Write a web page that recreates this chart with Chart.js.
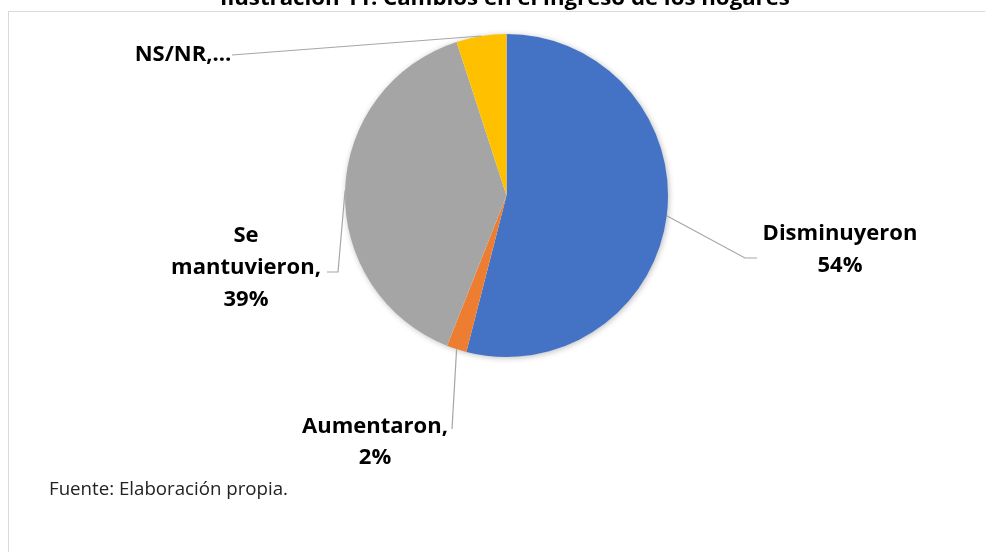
<!DOCTYPE html>
<html>
<head>
<meta charset="utf-8">
<script src="https://cdn.jsdelivr.net/npm/chart.js@4/dist/chart.umd.min.js"></script>
<style>
  html, body { margin: 0; padding: 0; background: #fff; }
  canvas { display: block; }
</style>
</head>
<body>
<canvas id="chart" width="985" height="552"></canvas>
<script>
// datos del grafico
const chartTitle = 'Ilustración 11. Cambios en el ingreso de los hogares';
const sourceNote = 'Fuente: Elaboración propia.';
const categories = ['Disminuyeron', 'Aumentaron', 'Se mantuvieron', 'NS/NR'];
const values = [54, 2, 39, 5];
const sliceColors = ['#4472C4', '#ED7D31', '#A5A5A5', '#FFC000'];

// texto de las etiquetas, tal como lo parte Excel
const labelText = [
  [categories[0], values[0] + '%'],
  [categories[1] + ',', values[1] + '%'],
  ['Se', 'mantuvieron,', values[2] + '%'],
  ['NS/NR,…']
];

// donde va cada etiqueta y el codo de su linea guia
const labelLayout = [
  { x: 840, base: 240, lh: 32, path: [[745, 258], [757, 258]] },
  { x: 375, base: 433, lh: 31, path: [[452, 429]] },
  { x: 246, base: 242, lh: 32, path: [[338, 272], [327, 272]] },
  { x: 183, base: 61,  lh: 32, path: [[232, 55]] }
];

function fitFont(ctx, text, weight, family, targetWidth) {
  ctx.font = weight + ' 20px ' + family;
  const w = ctx.measureText(text).width;
  return weight + ' ' + (20 * targetWidth / w).toFixed(2) + 'px ' + family;
}

const decorPlugin = {
  id: 'decor',
  beforeDraw(chart) {
    const ctx = chart.ctx;
    ctx.save();
    // marco del area del grafico
    ctx.strokeStyle = '#D9D9D9';
    ctx.lineWidth = 1;
    ctx.strokeRect(8.5, 11.5, 1000, 600);
    // titulo (cortado arriba)
    ctx.fillStyle = '#000';
    ctx.textAlign = 'center';
    ctx.textBaseline = 'alphabetic';
    ctx.font = fitFont(ctx, chartTitle, 'bold', '"Open Sans"', 570);
    ctx.fillText(chartTitle, 505, 5);
    // fuente
    ctx.textAlign = 'left';
    ctx.font = fitFont(ctx, sourceNote, 'normal', '"Open Sans"', 239);
    ctx.fillStyle = '#222';
    ctx.fillText(sourceNote, 49, 495);
    ctx.restore();
  },
  beforeDatasetsDraw(chart) {
    // sombra suave debajo de la torta
    const arc = chart.getDatasetMeta(0).data[0];
    if (!arc) return;
    const ctx = chart.ctx;
    ctx.save();
    ctx.shadowColor = 'rgba(0, 0, 0, 0.3)';
    ctx.shadowBlur = 6;
    ctx.shadowOffsetX = 1;
    ctx.shadowOffsetY = 1;
    ctx.fillStyle = '#fff';
    ctx.beginPath();
    ctx.arc(arc.x, arc.y, arc.outerRadius - 0.5, 0, Math.PI * 2);
    ctx.fill();
    ctx.restore();
  },
  afterDatasetsDraw(chart) {
    const ctx = chart.ctx;
    const meta = chart.getDatasetMeta(0);
    ctx.save();
    meta.data.forEach((arc, i) => {
      const p = arc.getProps(['x', 'y', 'startAngle', 'endAngle', 'outerRadius'], true);
      const mid = (p.startAngle + p.endAngle) / 2;
      const sx = p.x + Math.cos(mid) * p.outerRadius;
      const sy = p.y + Math.sin(mid) * p.outerRadius;
      const lay = labelLayout[i];

      // linea guia
      ctx.strokeStyle = '#A6A6A6';
      ctx.lineWidth = 1.2;
      ctx.beginPath();
      ctx.moveTo(sx, sy);
      lay.path.forEach(pt => ctx.lineTo(pt[0], pt[1]));
      ctx.stroke();

      // etiqueta
      ctx.fillStyle = '#000';
      ctx.textAlign = 'center';
      ctx.textBaseline = 'alphabetic';
      ctx.font = 'bold 22px "Open Sans"';
      labelText[i].forEach((line, k) => {
        ctx.fillText(line, lay.x, lay.base + k * lay.lh);
      });
    });
    ctx.restore();
  }
};

new Chart(document.getElementById('chart'), {
  type: 'pie',
  data: {
    labels: categories,
    datasets: [{
      data: values,
      backgroundColor: sliceColors,
      borderWidth: 0
    }]
  },
  options: {
    responsive: false,
    animation: false,
    devicePixelRatio: 1,
    layout: {
      padding: { top: 34, bottom: 195, left: 345, right: 317 }
    },
    plugins: {
      legend: { display: false },
      tooltip: { enabled: false }
    }
  },
  plugins: [decorPlugin]
});
</script>
</body>
</html>
